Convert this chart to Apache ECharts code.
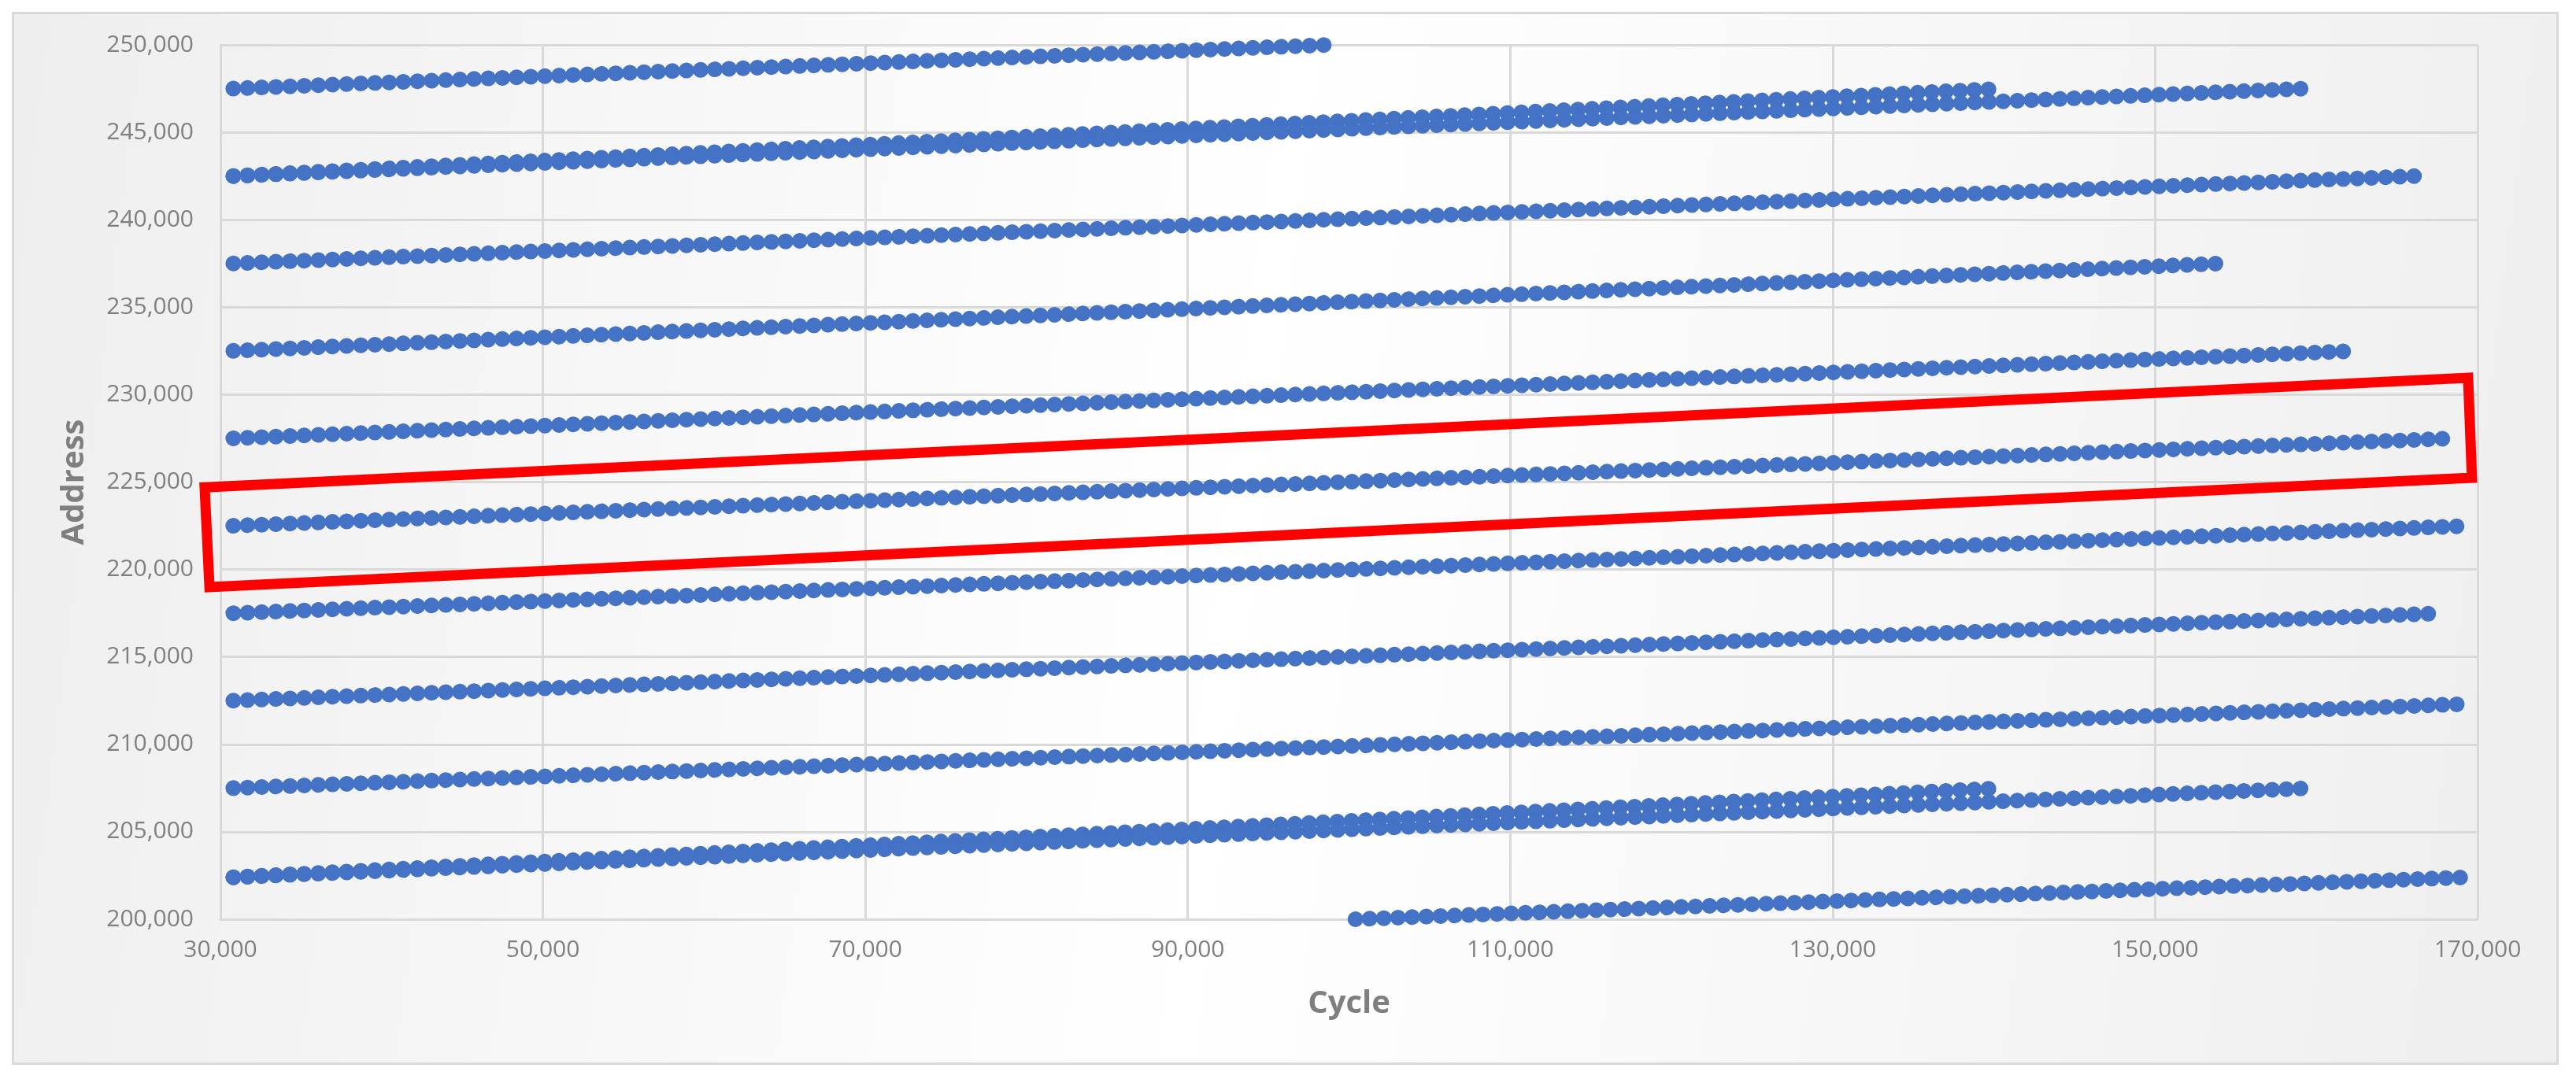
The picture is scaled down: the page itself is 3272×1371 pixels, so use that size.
<!DOCTYPE html>
<html>
<head>
<meta charset="utf-8">
<script src="https://cdn.jsdelivr.net/npm/echarts@6/dist/echarts.min.js"></script>
<style>
  html, body { margin: 0; padding: 0; background: #ffffff; }
  #chart { width: 3272px; height: 1371px; }
</style>
</head>
<body>
<div id="chart"></div>
<script>
// ---- Data ----
// Each run of dots: start (cycle, address) -> end (cycle, address)
const runStartCycle   = [30800, 30800, 30800, 30800, 30800, 30800, 30800, 30800, 30800, 30800, 30800, 30800, 100400];
const runStartAddress = [247500, 242500, 242500, 237500, 232500, 227500, 222500, 217500, 212500, 207500, 202400, 202400, 200000];
const runEndCycle     = [98700, 140500, 159200, 166200, 154000, 162400, 168500, 169500, 167800, 169000, 140500, 159600, 169300];
const runEndAddress   = [250000, 247500, 247500, 242500, 237500, 232500, 227500, 222500, 217500, 212300, 207500, 207500, 202400];

// Red highlight box corners (cycle, address)
const boxCycle   = [29020, 169410, 169650, 29320];
const boxAddress = [224700, 230960, 225250, 218990];

// Axis ticks
const xTicks = [30000, 50000, 70000, 90000, 110000, 130000, 150000, 170000];
const yTicks = [200000, 205000, 210000, 215000, 220000, 225000, 230000, 235000, 240000, 245000, 250000];

const fmt = v => Number(v).toLocaleString('en-US');
const labelFont = '"Open Sans", "Noto Sans", sans-serif';
const gray = '#7f7f7f';
const gridGray = '#d9d9d9';

const series = runStartCycle.map((c, i) => ({
  type: 'line',
  name: 'run' + i,
  data: [[c, runStartAddress[i]], [runEndCycle[i], runEndAddress[i]]],
  symbol: 'none',
  showSymbol: false,
  animation: false,
  silent: true,
  z: 3,
  lineStyle: {
    color: '#4472C4',
    width: 20,
    type: [0.1, 17.9],
    cap: 'round'
  }
}));

series.push({
  type: 'custom',
  name: 'box',
  data: [[boxCycle[0], boxAddress[0]]],
  clip: false,
  animation: false,
  silent: true,
  z: 5,
  renderItem: function (params, api) {
    const pts = boxCycle.map((c, i) => api.coord([c, boxAddress[i]]));
    return {
      type: 'polygon',
      shape: { points: pts },
      style: { fill: 'none', stroke: '#ff0000', lineWidth: 13, lineJoin: 'miter' }
    };
  }
});

const chart = echarts.init(document.getElementById('chart'), null, { renderer: 'canvas' });
chart.setOption({
  animation: false,
  backgroundColor: '#ffffff',
  graphic: [{
    type: 'rect',
    z: -10,
    silent: true,
    shape: { x: 16.5, y: 16.5, width: 3232, height: 1335 },
    style: {
      fill: new echarts.graphic.LinearGradient(0, 0, 1, 0.3, [
        { offset: 0, color: '#eeeeee' },
        { offset: 0.5, color: '#ffffff' },
        { offset: 1, color: '#efefef' }
      ]),
      stroke: gridGray,
      lineWidth: 3
    }
  }],
  grid: {
    left: 280, right: 125, top: 57, bottom: 203,
    containLabel: false,
    outerBoundsMode: 'none'
  },
  xAxis: {
    type: 'value',
    min: xTicks[0],
    max: xTicks[xTicks.length - 1],
    interval: xTicks[1] - xTicks[0],
    name: 'Cycle',
    nameLocation: 'middle',
    nameGap: 88,
    nameTextStyle: { fontFamily: labelFont, fontSize: 40, fontWeight: 'bold', color: gray },
    axisLine: { show: true, lineStyle: { color: gridGray, width: 3 } },
    axisTick: { show: false },
    axisLabel: { margin: 24, fontFamily: labelFont, fontSize: 30, color: gray, formatter: fmt },
    splitLine: { show: true, lineStyle: { color: gridGray, width: 3 } }
  },
  yAxis: {
    type: 'value',
    min: yTicks[0],
    max: yTicks[yTicks.length - 1],
    interval: yTicks[1] - yTicks[0],
    name: 'Address',
    nameLocation: 'middle',
    nameGap: 165,
    nameTextStyle: { fontFamily: labelFont, fontSize: 40, fontWeight: 'bold', color: gray },
    axisLine: { show: true, lineStyle: { color: gridGray, width: 3 } },
    axisTick: { show: false },
    axisLabel: { margin: 34, fontFamily: labelFont, fontSize: 30, color: gray, formatter: fmt },
    splitLine: { show: true, lineStyle: { color: gridGray, width: 3 } }
  },
  series: series
});
</script>
</body>
</html>
